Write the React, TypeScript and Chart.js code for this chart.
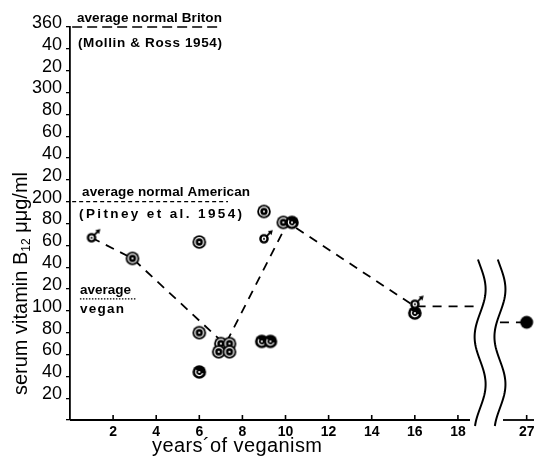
import React, { useEffect, useRef } from "react";
import { Chart, registerables } from "chart.js";

Chart.register(...registerables);

// ---------- axis ticks ----------
const yTickValues = [0, 20, 40, 60, 80, 100, 120, 140, 160, 180, 200, 220, 240, 260, 280, 300, 320, 340, 360];
const yTickLabels = ["", "20", "40", "60", "80", "100", "20", "40", "60", "80", "200", "20", "40", "60", "80", "300", "20", "40", "360"];
const xTickYears = [2, 4, 6, 8, 10, 12, 14, 16, 18, 27];
const xTickLabels = ["2", "4", "6", "8", "10", "12", "14", "16", "18", "27"];

// ---------- observations (years of veganism, serum B12 µµg/ml) ----------
const ringYears = [2.9, 6, 6, 9, 9.9];
const ringB12 = [148, 163, 80, 191, 181];
const clusterYears = [7.0, 7.4, 6.9, 7.4];
const clusterB12 = [70, 70, 62.5, 62.5];
const darkYears = [6, 10.3, 8.9, 9.3, 16];
const darkB12 = [44, 181, 72, 72, 98];
const maleYears = [1, 9, 16];
const maleB12 = [167, 166, 106];
const solidYears = [27];
const solidB12 = [89.5];

// dashed trend (null = break in the axis)
const trendYears: (number | null)[] = [1, 2.9, 7.2, 10.1, 16, 19.03, null, 25, 27];
const trendB12: (number | null)[] = [167, 148, 69, 181, 104, 104, null, 89.5, 89.5];

// reference averages
const BRITON_AVG = 360;
const AMERICAN_AVG = 200;
const VEGAN_AVG = 111;
const britonYears = [0.1, 7.05];
const americanYears = [0.1, 7.33];
const veganYears = [0.46, 3.1];

// ---------- broken x axis ----------
const BREAK_YEAR = 19.5;
const RESUME_YEAR = 25;
const RESUME_POS = 19.95;
const COMPRESS = 0.62;
const X_MAX = 21.53;
const toAxis = (yr: number) => (yr <= BREAK_YEAR ? yr : RESUME_POS + (yr - RESUME_YEAR) * COMPRESS);
const AXIS_SEGMENTS: [number, number][] = [[0, 18.56], [20.09, X_MAX]];
const WAVES = [19.03, 19.95];

const pts = (xs: (number | null)[], ys: (number | null)[]) =>
  xs.map((v, i) => ({ x: v === null ? toAxis(BREAK_YEAR) : toAxis(v), y: ys[i] === null ? null : ys[i] }));

function makeCanvas(size: number, draw: (ctx: CanvasRenderingContext2D, c: number) => void) {
  const cv = document.createElement("canvas");
  cv.width = size;
  cv.height = size;
  const ctx = cv.getContext("2d")!;
  draw(ctx, size / 2);
  return cv;
}

const TAU = Math.PI * 2;

function ringMarker() {
  return makeCanvas(18, (ctx, c) => {
    ctx.fillStyle = "#000";
    ctx.beginPath(); ctx.arc(c, c, 6.8, 0, TAU); ctx.fill();
    ctx.strokeStyle = "#fff";
    ctx.lineWidth = 1.3;
    ctx.beginPath(); ctx.arc(c, c, 4.3, 0, TAU); ctx.stroke();
    ctx.fillStyle = "#fff";
    ctx.beginPath(); ctx.arc(c, c, 1.1, 0, TAU); ctx.fill();
  });
}
function darkMarker() {
  return makeCanvas(18, (ctx, c) => {
    ctx.fillStyle = "#000";
    ctx.beginPath(); ctx.arc(c, c, 6.8, 0, TAU); ctx.fill();
    ctx.strokeStyle = "#fff";
    ctx.lineWidth = 1.2;
    ctx.beginPath(); ctx.arc(c, c, 3.6, 0.1 * Math.PI, 1.2 * Math.PI); ctx.stroke();
    ctx.fillStyle = "#fff";
    ctx.beginPath(); ctx.arc(c, c, 1.1, 0, TAU); ctx.fill();
  });
}
function maleMarker() {
  return makeCanvas(22, (ctx, c) => {
    ctx.fillStyle = "#fff";
    ctx.strokeStyle = "#000";
    ctx.lineWidth = 2.4;
    ctx.beginPath(); ctx.arc(c, c, 3.6, 0, TAU); ctx.fill(); ctx.stroke();
    ctx.fillStyle = "#000";
    ctx.beginPath(); ctx.arc(c, c, 1, 0, TAU); ctx.fill();
    ctx.lineWidth = 1.8;
    ctx.beginPath(); ctx.moveTo(c + 2.6, c - 2.6); ctx.lineTo(c + 7, c - 7); ctx.stroke();
    ctx.beginPath(); ctx.moveTo(c + 8.8, c - 8.8); ctx.lineTo(c + 3.8, c - 7.6); ctx.lineTo(c + 7.6, c - 3.8); ctx.closePath(); ctx.fill();
  });
}
function solidMarker() {
  return makeCanvas(16, (ctx, c) => {
    ctx.fillStyle = "#000";
    ctx.beginPath(); ctx.arc(c, c, 6.5, 0, TAU); ctx.fill();
  });
}

const FONT = "'Liberation Sans', Arial, sans-serif";

function spacedText(ctx: CanvasRenderingContext2D, s: string, left: number, cy: number, font: string, targetW: number) {
  ctx.font = font;
  (ctx as any).letterSpacing = "0px";
  const w = ctx.measureText(s).width;
  const sp = s.length > 1 ? (targetW - w) / (s.length - 1) : 0;
  (ctx as any).letterSpacing = `${sp}px`;
  ctx.textAlign = "left";
  ctx.fillText(s, left, cy);
  (ctx as any).letterSpacing = "0px";
}

const decor = {
  id: "decor",
  afterDraw(chart: any) {
    const { ctx, scales } = chart;
    const x = scales.x;
    const y = scales.y;
    const base = y.getPixelForValue(0);
    ctx.save();
    ctx.strokeStyle = "#000";
    ctx.fillStyle = "#000";
    ctx.lineWidth = 1.8;
    // broken x axis line
    for (const [a, b] of AXIS_SEGMENTS) {
      ctx.beginPath();
      ctx.moveTo(x.getPixelForValue(a), base);
      ctx.lineTo(x.getPixelForValue(b), base);
      ctx.stroke();
    }
    // tick marks (pointing up) and labels
    ctx.lineWidth = 1.6;
    ctx.textAlign = "center";
    ctx.textBaseline = "middle";
    ctx.font = `bold 14px ${FONT}`;
    xTickYears.forEach((yr, i) => {
      const px = x.getPixelForValue(toAxis(yr));
      ctx.beginPath();
      ctx.moveTo(px, base);
      ctx.lineTo(px, base - 5);
      ctx.stroke();
      ctx.fillText(xTickLabels[i], px, base + 12);
    });
    // wavy break marks
    ctx.lineWidth = 2;
    for (const w of WAVES) {
      const cx = x.getPixelForValue(w);
      const top = y.getPixelForValue(147);
      const bot = base + 7;
      ctx.beginPath();
      for (let py = top; py <= bot; py += 1.5) {
        const px = cx + 5.5 * Math.sin(((py - top) / 95) * TAU - 0.4);
        if (py === top) ctx.moveTo(px, py);
        else ctx.lineTo(px, py);
      }
      ctx.stroke();
    }
    // annotations
    const ann = (s: string, yr: number, v: number, w: number) =>
      spacedText(ctx, s, x.getPixelForValue(yr), y.getPixelForValue(v), `bold 13.5px ${FONT}`, w);
    ann("average normal Briton", 0.32, 368, 145);
    ann("(Mollin & Ross 1954)", 0.37, 345, 144);
    ann("average normal American", 0.56, 209, 168);
    ann("(Pitney et al. 1954)", 0.42, 188, 163);
    ann("average", 0.46, 119, 51);
    ann("vegan", 0.46, 101.6, 44);

    // x axis title
    const title = "years\u00B4of veganism";
    spacedText(ctx, title, x.getPixelForValue(7.75) - 85, y.getPixelForValue(-24.7), `20px ${FONT}`, 170);

    // y axis title (rotated, with subscript 12)
    ctx.translate(21, y.getPixelForValue(125));
    ctx.rotate(-Math.PI / 2);
    ctx.textAlign = "left";
    const p1 = "serum vitamin B";
    const p2 = "12";
    const p3 = " \u03BC\u03BCg/ml";
    ctx.font = `20px ${FONT}`;
    const w1 = ctx.measureText(p1).width;
    const w3 = ctx.measureText(p3).width;
    ctx.font = `12px ${FONT}`;
    const w2 = ctx.measureText(p2).width;
    const total = w1 + w2 + w3;
    let cur = -total / 2;
    ctx.font = `20px ${FONT}`;
    ctx.fillText(p1, cur, 0);
    cur += w1;
    ctx.font = `12px ${FONT}`;
    ctx.fillText(p2, cur, 6);
    cur += w2;
    ctx.font = `20px ${FONT}`;
    ctx.fillText(p3, cur, 0);
    ctx.restore();
  },
};

export default function App() {
  const ref = useRef<HTMLCanvasElement>(null);

  useEffect(() => {
    document.body.style.margin = "0";
    const canvas = ref.current!;
    const ring = ringMarker();
    const dark = darkMarker();
    const male = maleMarker();
    const solid = solidMarker();

    const marker = (data: any, style: any) => ({
      type: "scatter" as const,
      data,
      pointStyle: style,
      pointRadius: 7,
      showLine: false,
      clip: false as const,
    });
    const refLine = (xs: number[], v: number, dash: number[], width: number) => ({
      type: "line" as const,
      data: xs.map((yr) => ({ x: toAxis(yr), y: v })),
      borderColor: "#000",
      borderWidth: width,
      borderDash: dash,
      pointRadius: 0,
      showLine: true,
      clip: false as const,
    });

    const chart = new Chart(canvas, {
      type: "scatter",
      data: {
        datasets: [
          marker(pts(solidYears, solidB12), solid),
          marker(pts(maleYears, maleB12), male),
          marker(pts(darkYears, darkB12), dark),
          marker(pts(clusterYears, clusterB12), ring),
          marker(pts(ringYears, ringB12), ring),
          {
            type: "line" as const,
            data: pts(trendYears, trendB12),
            borderColor: "#000",
            borderWidth: 1.8,
            borderDash: [9, 7],
            pointRadius: 0,
            showLine: true,
            spanGaps: false,
            clip: false as const,
          },
          refLine(britonYears, BRITON_AVG, [10, 5], 1.6),
          refLine(americanYears, AMERICAN_AVG, [4, 3], 1.4),
          refLine(veganYears, VEGAN_AVG, [1.5, 1.5], 1.2),
        ] as any,
      },
      options: {
        animation: false,
        responsive: false,
        events: [],
        layout: { autoPadding: false, padding: { top: 27, left: 0, right: 0, bottom: 0 } },
        plugins: { legend: { display: false }, tooltip: { enabled: false } },
        scales: {
          x: {
            type: "linear",
            min: 0,
            max: X_MAX,
            grid: { display: false, drawTicks: false },
            border: { display: false },
            afterBuildTicks: (scale: any) => {
              scale.ticks = xTickYears.map((yr) => ({ value: toAxis(yr) }));
            },
            afterFit: (scale: any) => {
              scale.height = 38;
              scale.paddingLeft = 0;
              scale.paddingRight = 0;
            },
            ticks: { display: false },
          },
          y: {
            type: "linear",
            min: 0,
            max: 360,
            border: { display: true, color: "#000", width: 1.8 },
            grid: { drawOnChartArea: false, drawTicks: true, tickLength: 4, color: "#000", lineWidth: 1.3 },
            afterBuildTicks: (scale: any) => {
              scale.ticks = yTickValues.map((v) => ({ value: v }));
            },
            afterFit: (scale: any) => {
              scale.width = 70;
              scale.paddingTop = 0;
              scale.paddingBottom = 0;
            },
            ticks: {
              autoSkip: false,
              padding: 4,
              labelOffset: -4,
              color: "#000",
              font: { family: FONT, size: 18 },
              callback: (_v: any, i: number) => yTickLabels[i],
            },
          },
        },
      },
      plugins: [decor],
    });
    return () => chart.destroy();
  }, []);

  return (
    <div style={{ width: 534, height: 458, position: "relative", background: "#fff" }}>
      <canvas ref={ref} width={534} height={458} style={{ display: "block" }} />
    </div>
  );
}
